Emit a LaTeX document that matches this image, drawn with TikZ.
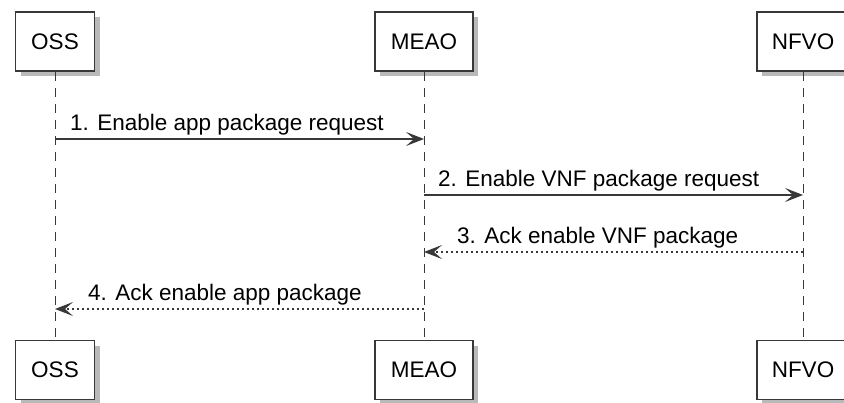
\documentclass[tikz,border=0pt]{standalone}
\usepackage{fontspec}
\setmainfont{Liberation Sans}
\usetikzlibrary{arrows.meta}
\definecolor{umlline}{HTML}{383838}
\definecolor{umlshadow}{HTML}{8A8A8A}
\tikzset{
  party/.style={draw=umlline, line width=1.5pt, fill=white, minimum width=#1, minimum height=59pt, inner sep=0pt, font=\fontsize{22.5}{24}\selectfont},
  party/.default=80pt,
  lifeline/.style={draw=umlline, line width=1pt, dash pattern=on 9pt off 7pt},
  msg/.style={draw=umlline, line width=1.3pt, -{Stealth[length=18pt,width=14pt,inset=8pt]}},
  reply/.style={msg, dash pattern=on 2.5pt off 2.5pt},
  msglabel/.style={anchor=base west, inner sep=0pt, font=\fontsize{22.5}{24}\selectfont}
}
\begin{document}
\begin{tikzpicture}[x=1pt,y=-1pt]
        \useasboundingbox (0,0) rectangle (844,403);
        \clip (0,0) rectangle (844,403);
        %% shadows of the boxes
        \foreach \cx/\w in {55/79,424/98,803/92} {
          \fill[umlshadow, opacity=0.6] (\cx-\w/2+5,17) rectangle (\cx+\w/2+5,76);
          \fill[umlshadow, opacity=0.6] (\cx-\w/2+5,346) rectangle (\cx+\w/2+5,404);
        }
        %% lifelines
        \coordinate (ossT) at (55,72);
        \coordinate (ossE) at (55,341);
        \coordinate (meaoT) at (424,72);
        \coordinate (meaoE) at (424,341);
        \coordinate (nfvoT) at (803,72);
        \coordinate (nfvoE) at (803,341);
        \draw[lifeline] (ossT) -- (ossE);
        \draw[lifeline] (meaoT) -- (meaoE);
        \draw[lifeline] (nfvoT) -- (nfvoE);
        %% participants, top and bottom
        \node[party=79pt] (oss) at (55,41.5) {OSS};
        \node[party=98pt] (meao) at (424,41.5) {MEAO};
        \node[party=92pt] (nfvo) at (803,41.5) {NFVO};
        \node[party=79pt] (ossB) at (55,370) {OSS};
        \node[party=98pt] (meaoB) at (424,370) {MEAO};
        \node[party=92pt] (nfvoB) at (803,370) {NFVO};
        %% messages 1,2,3,4
        \draw[msg] (oss |- 0,139) -- (meao |- 0,139);
        \node[msglabel] (m1) at (70,131) {1. Enable app package request};
        \draw[msg] (meao |- 0,195) -- (nfvo |- 0,195);
        \node[msglabel] (m2) at (438,187) {2. Enable VNF package request};
        \draw[reply] (nfvo |- 0,252) -- (meao |- 0,252);
        \node[msglabel] (m3) at (457,244) {3. Ack enable VNF package};
        \draw[reply] (meao |- 0,309) -- (oss |- 0,309);
        \node[msglabel] (m4) at (88,301) {4. Ack enable app package};
    \end{tikzpicture}
\end{document}
